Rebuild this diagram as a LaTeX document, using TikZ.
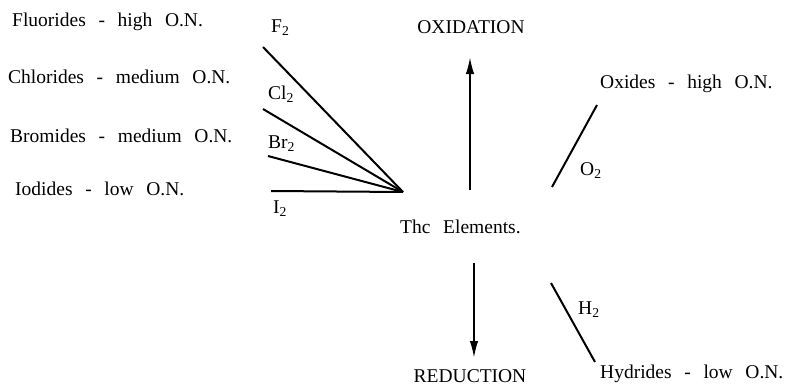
\documentclass[tikz,border=0pt]{standalone}
\usepackage{fontspec}
\setmainfont{Liberation Serif}
\usetikzlibrary{arrows.meta}

\newcommand{\widewords}{\spaceskip=0.65em\relax}

\tikzset{
    txt/.style={inner sep=0pt, anchor=base west,
        font={\fontsize{19.5}{23}\selectfont\widewords}},
    bond/.style={line width=2pt},
    redox/.style={line width=2pt, -{Latex[length=17pt,width=8.5pt]}}
}

\begin{document}
\begin{tikzpicture}[x=1pt, y=-1pt]
    \useasboundingbox (0,0) rectangle (788,386);

    % products on the left
    \node[txt] (fluor) at (12,26) {Fluorides - high O.N.};
    \node[txt] (chlor) at (8,83) {Chlorides - medium O.N.};
    \node[txt] (brom) at (10,142) {Bromides - medium O.N.};
    \node[txt] (iod) at (15,195) {Iodides - low O.N.};

    % halogens
    \node[txt] (fl) at (271,32) {F\textsubscript{2}};
    \node[txt] (cl) at (268,99) {Cl\textsubscript{2}};
    \node[txt] (br) at (268,148) {Br\textsubscript{2}};
    \node[txt] (io) at (273,213) {I\textsubscript{2}};
    \coordinate (conv) at (403,192);
    \coordinate (flend) at (263,47);
    \coordinate (clend) at (263,109);
    \coordinate (brend) at (268,156);
    \coordinate (ioend) at (271,191);
    \draw[bond] (flend) -- (conv);
    \draw[bond] (clend) -- (conv);
    \draw[bond] (brend) -- (conv);
    \draw[bond] (ioend) -- (conv);

    % centre
    \node[txt] (elem) at (400,233) {Thc Elements.};
    \node[txt, anchor=base] (oxid) at (471,33) {OXIDATION};
    \node[txt, anchor=base] (red) at (470,382) {REDUCTION};
    \coordinate (uptail) at (470,190);
    \coordinate (uptip) at (470,57);
    \coordinate (downtail) at (474,263);
    \coordinate (downtip) at (474,358);
    \draw[redox] (uptail) -- (uptip);
    \draw[redox] (downtail) -- (downtip);

    % oxygen and hydrogen
    \node[txt] (oxide) at (600,88) {Oxides - high O.N.};
    \node[txt] (ox) at (580,175) {O\textsubscript{2}};
    \coordinate (oxtop) at (597,105);
    \coordinate (oxbot) at (552,187);
    \draw[bond] (oxtop) -- (oxbot);

    \node[txt] (hyd) at (600,378) {Hydrides - low O.N.};
    \node[txt] (hy) at (578,314) {H\textsubscript{2}};
    \coordinate (hytop) at (551,283);
    \coordinate (hybot) at (595,362);
    \draw[bond] (hytop) -- (hybot);
\end{tikzpicture}
\end{document}
